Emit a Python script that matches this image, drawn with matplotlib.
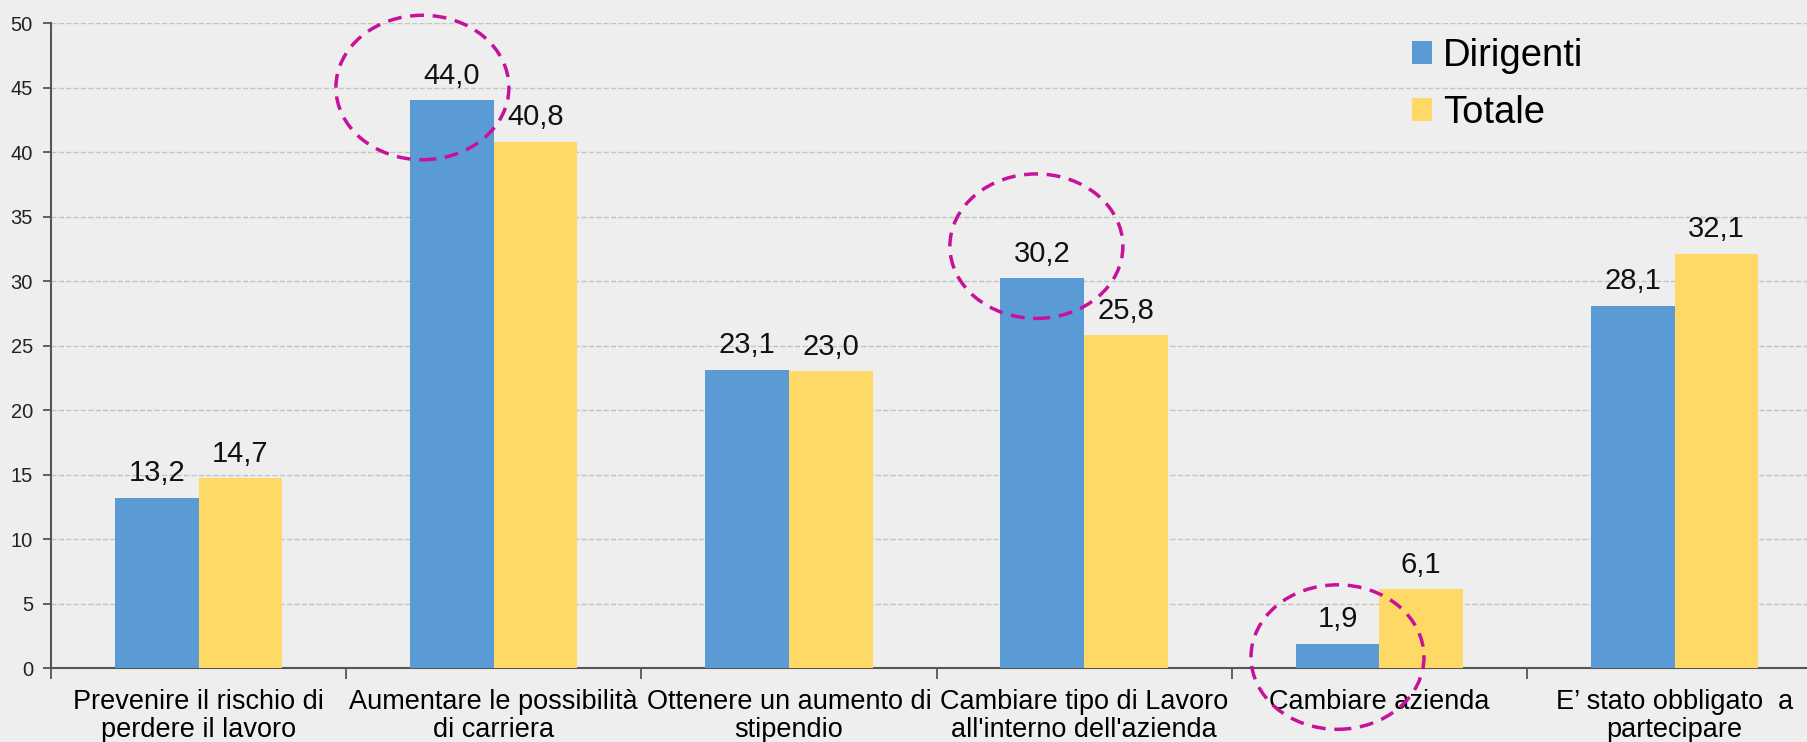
import matplotlib.pyplot as plt
from matplotlib.patches import Ellipse
import numpy as np

categories = ['Prevenire il rischio di\nperdere il lavoro',
              'Aumentare le possibilità\ndi carriera',
              'Ottenere un aumento di\nstipendio',
              "Cambiare tipo di Lavoro\nall'interno dell'azienda",
              'Cambiare azienda',
              'E’ stato obbligato  a\npartecipare']
dirigenti = [13.2, 44.0, 23.1, 30.2, 1.9, 28.1]
totale = [14.7, 40.8, 23.0, 25.8, 6.1, 32.1]

narrow = ['Liberation Sans Narrow', 'Liberation Sans', 'DejaVu Sans']
plt.rcParams['font.family'] = ['Liberation Sans', 'DejaVu Sans']

bg = '#eeeeee'
fig = plt.figure(figsize=(18.08, 7.42), dpi=100, facecolor=bg)
ax = fig.add_axes([0.0282, 0.0997, 0.9796, 0.8693], facecolor=bg)

x = np.arange(len(categories))
w = 0.2835
b1 = ax.bar(x - w / 2, dirigenti, w, color='#5b9bd5', label='Dirigenti', zorder=3)
b2 = ax.bar(x + w / 2, totale, w, color='#ffd966', label='Totale', zorder=3)

for bars, vals in [(b1, dirigenti), (b2, totale)]:
    for r, v in zip(bars, vals):
        ax.annotate(f'{v:.1f}'.replace('.', ','), (r.get_x() + r.get_width() / 2, v),
                    xytext=(0, 12), textcoords='offset points', ha='center', va='baseline',
                    fontsize=21, color='#111111')

# dashed circles round some Dirigenti values
for i, dx, cy in [(1, -0.1, 45.0), (3, -0.02, 32.7), (4, 0.0, 0.85)]:
    e = Ellipse((x[i] - w / 2 + dx, cy), 0.586, 11.2, fill=False, edgecolor='#c8119b',
                lw=2.5, ls=(0, (4, 2.5)), zorder=5, clip_on=False)
    ax.add_patch(e)

ax.set_xlim(-0.5, 5.5)
ax.set_ylim(0, 50)
ax.set_yticks(range(0, 51, 5))
ax.grid(axis='y', ls='--', color='#c4c4c4', lw=1, zorder=0)
ax.set_xticks(x)
ax.set_xticklabels(categories, fontsize=19.5, family=narrow, linespacing=1.12)
ax.set_xticks(np.arange(-0.5, 5.6, 1), minor=True)
ax.tick_params(axis='x', which='major', length=0, pad=15)
ax.tick_params(axis='x', which='minor', length=8, color='#555555', width=1.3)
ax.tick_params(axis='y', length=6, color='#555555', width=1.3, labelsize=14.5, pad=7,
               labelcolor='#222222')
for s in ['top', 'right']:
    ax.spines[s].set_visible(False)
for s in ['left', 'bottom']:
    ax.spines[s].set_color('#555555')
    ax.spines[s].set_linewidth(1.5)

ax.legend(loc='upper left', bbox_to_anchor=(0.749, 1.03), frameon=False, fontsize=27.5,
          handlelength=0.52, handleheight=0.52, handletextpad=0.3, labelspacing=0.55)

plt.savefig('out.png', dpi=100, facecolor=bg)
